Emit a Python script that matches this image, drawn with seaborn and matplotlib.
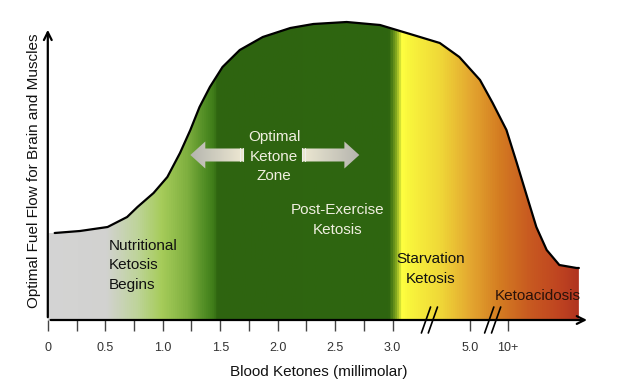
"""
Ketone zones chart: fuel flow vs blood ketones, gradient-filled area.
"""

import numpy as np
import pandas as pd
import matplotlib
matplotlib.use("Agg")
import matplotlib.pyplot as plt
import seaborn as sns
from matplotlib.colors import LinearSegmentedColormap
from matplotlib.patches import FancyArrow

# curve (x = position on the broken ketone axis)
ketone_pos = [0.0, 0.06, 0.28, 0.52, 0.69, 0.78, 0.92, 1.04, 1.15, 1.24,
              1.32, 1.41, 1.52, 1.67, 1.87, 2.11, 2.31, 2.60, 2.89, 3.18,
              3.41, 3.58, 3.76, 3.87, 3.99, 4.08, 4.17, 4.25, 4.34, 4.45,
              4.60, 4.62]
fuel_flow = [0.87, 0.87, 0.89, 0.93, 1.03, 1.13, 1.27, 1.43, 1.67, 1.90,
             2.13, 2.33, 2.53, 2.70, 2.83, 2.92, 2.96, 2.98, 2.95, 2.85,
             2.77, 2.63, 2.40, 2.17, 1.90, 1.57, 1.23, 0.93, 0.70, 0.55,
             0.52, 0.52]

tick_pos = [0.0, 0.5, 1.0, 1.5, 2.0, 2.5, 3.0, 3.67, 4.0]
tick_labels = ["0", "0.5", "1.0", "1.5", "2.0", "2.5", "3.0", "5.0", "10+"]
minor_pos = [0.25, 0.75, 1.25, 1.75, 2.25, 2.75]
break_pos = [3.32, 3.87]

zone_labels = ["Nutritional\nKetosis\nBegins", "Optimal\nKetone\nZone",
               "Post-Exercise\nKetosis", "Starvation\nKetosis", "Ketoacidosis"]

df = pd.DataFrame({"ketones": ketone_pos, "flow": fuel_flow})

sns.set_style("white")
plt.rcParams["font.family"] = ["Liberation Sans", "DejaVu Sans"]

fig = plt.figure(figsize=(6.32, 3.82), dpi=100)
ax = fig.add_axes([47.8 / 632, 62 / 382, 542 / 632, 305 / 382])
xmax = 4.715
ax.set_xlim(0, xmax)
ax.set_ylim(0, 3.05)

# gradient fill clipped to the area under the curve
stops = [
    (0.00, "#d4d4d4"), (0.50, "#d2d2d0"), (0.76, "#bfd49c"), (0.98, "#a6cc5a"),
    (1.20, "#80b040"), (1.37, "#4d8a22"), (1.44, "#3e7a18"), (1.47, "#2e6410"),
    (2.97, "#2f6610"), (3.03, "#8aac20"), (3.08, "#ffff40"), (3.15, "#f8f43c"),
    (3.41, "#f0d838"), (3.67, "#e4a830"), (3.93, "#d47c22"), (4.19, "#c85a20"),
    (4.45, "#bf4420"), (4.62, "#b03420"),
]
cmap = LinearSegmentedColormap.from_list(
    "ket", [(p / 4.62, c) for p, c in stops])
grad = np.linspace(0, 1, 800).reshape(1, -1)
poly = ax.fill_between(df["ketones"], df["flow"], 0, color="none", lw=0)
im = ax.imshow(grad, cmap=cmap, aspect="auto", extent=[0, 4.62, 0, 3.05],
               origin="lower", zorder=1)
im.set_clip_path(poly.get_paths()[0], transform=ax.transData)

sns.lineplot(data=df.iloc[1:], x="ketones", y="flow", color="black",
             lw=1.6, ax=ax, zorder=3, solid_joinstyle="round")

# axes with arrow heads
for s in ax.spines.values():
    s.set_visible(False)
ax.annotate("", xy=(xmax, 0), xytext=(0, 0),
            arrowprops=dict(arrowstyle="->", lw=1.6, color="black",
                            mutation_scale=14), zorder=4)
ax.annotate("", xy=(0, 2.93), xytext=(0, 0),
            arrowprops=dict(arrowstyle="->", lw=1.6, color="black",
                            mutation_scale=14), annotation_clip=False, zorder=4)

ax.set_xticks(tick_pos, tick_labels)
ax.set_xticks(minor_pos, minor=True)
ax.set_yticks([])
ax.tick_params(axis="x", which="both", direction="out", length=8, width=1,
               color="#444", labelsize=9, labelcolor="#333", pad=8, bottom=True)

for b in break_pos:
    for dx in (-0.03, 0.03):
        ax.plot([b + dx - 0.04, b + dx + 0.04], [-0.13, 0.13], color="black",
                lw=1.2, clip_on=False, zorder=5)

ax.set_xlabel("Blood Ketones (millimolar)", fontsize=11, color="#111",
              labelpad=8)
ax.set_ylabel("Optimal Fuel Flow for Brain and Muscles", fontsize=11,
              color="#111")
ax.yaxis.set_label_coords(-0.012, 0.49)
ax.grid(False)

# zone annotations
ax.text(0.53, 0.55, zone_labels[0], fontsize=11, color="#111", ha="left",
        va="center", linespacing=1.5, zorder=6)
ax.text(1.97, 1.63, zone_labels[1], fontsize=11, color="#f0efe0", ha="center",
        va="center", linespacing=1.5, zorder=6)
ax.text(2.52, 1.00, zone_labels[2], fontsize=11, color="#f0efe0", ha="center",
        va="center", linespacing=1.5, zorder=6)
ax.text(3.33, 0.51, zone_labels[3], fontsize=11, color="#111", ha="center",
        va="center", linespacing=1.5, zorder=6)
ax.text(4.26, 0.24, zone_labels[4], fontsize=11, color="#2a120a", ha="center",
        va="center", zorder=6)

# double arrow around "Optimal Ketone Zone", cream tip fading to grey
arrow_cmap = LinearSegmentedColormap.from_list("arr", ["#ede8d2", "#b4b4ae"])
for x0, dx in [(1.70, -0.46), (2.21, 0.50)]:
    arr = FancyArrow(x0, 1.65, dx, 0, width=0.13, head_width=0.27,
                     head_length=0.13, length_includes_head=True,
                     fc="none", ec="none", zorder=5)
    ax.add_patch(arr)
    g = np.linspace(1, 0, 100).reshape(1, -1)
    if dx > 0:
        g = g[:, ::-1]
    ext = [min(x0, x0 + dx), max(x0, x0 + dx), 1.50, 1.80]
    aim = ax.imshow(g, cmap=arrow_cmap, aspect="auto", extent=ext,
                    origin="lower", zorder=5)
    aim.set_clip_path(arr)
    for k in (0.0, 0.025):
        xb = x0 - k if dx < 0 else x0 + k
        ax.plot([xb, xb], [1.585, 1.715], color="#eeeeea", lw=0.8, zorder=6)
ax.set_xlim(0, xmax)
ax.set_ylim(0, 3.05)

fig.savefig("out.png", dpi=100)
